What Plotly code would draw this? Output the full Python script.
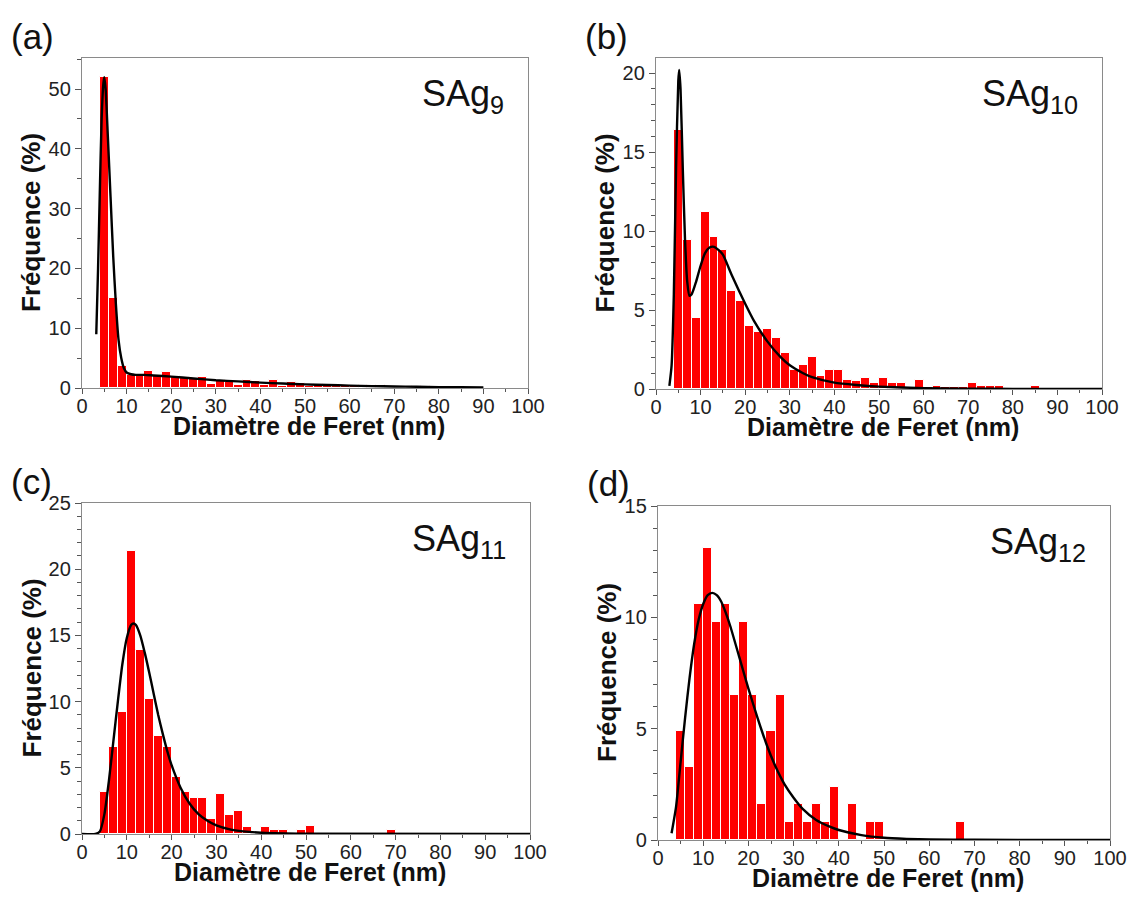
import plotly.graph_objects as go

# Bin centres (2 nm bins starting at 4 nm)
bins_a = [5 + 2 * i for i in range(37)]
freq_a = [52, 15, 3.7, 2.2, 2.3, 2.9, 2.0, 2.7, 2.0, 1.8, 1.5, 1.8, 0.7, 1.4, 1.0, 0.5,
          1.4, 1.1, 0.5, 1.4, 0.4, 1.0, 0.8, 0.3, 0.7, 0.5, 0.3, 0.3, 0.5, 0.5, 0.3, 0.5,
          0, 0, 0, 0.4, 0.4]

bins_b = [5 + 2 * i for i in range(41)]
freq_b = [16.4, 9.4, 4.5, 11.2, 9.6, 8.8, 6.2, 5.6, 4.0, 3.6, 3.8, 3.2, 2.3, 1.2, 1.5, 2.0,
          0.8, 1.2, 1.2, 0.6, 0.5, 0.7, 0.4, 0.7, 0.4, 0.4, 0.1, 0.6, 0.1, 0.2, 0.1, 0.1,
          0.1, 0.4, 0.2, 0.2, 0.2, 0, 0, 0, 0.2]

bins_c = [5 + 2 * i for i in range(33)]
freq_c = [3.2, 6.6, 9.2, 21.4, 13.9, 10.2, 7.4, 6.6, 4.3, 3.2, 2.7, 2.7, 1.1, 3.0, 1.4, 1.7,
          0.5, 0.1, 0.5, 0.3, 0.3, 0.1, 0.3, 0.6, 0, 0, 0, 0, 0, 0, 0, 0, 0.3]

bins_d = [5 + 2 * i for i in range(32)]
freq_d = [4.9, 3.3, 10.6, 13.1, 9.8, 10.6, 6.5, 9.8, 6.5, 1.6, 4.9, 6.5, 0.8, 1.6, 0.8, 1.6,
          0.8, 2.4, 0.05, 1.6, 0.05, 0.8, 0.8, 0, 0, 0, 0, 0, 0, 0, 0, 0.8]

# Fitted curves
fit_xa = [3.2, 3.6, 4.0, 4.4, 4.8, 5.0, 5.3, 5.8, 6.4, 7.0, 7.6, 8.2, 8.8, 9.4, 10, 11, 12,
          14, 16, 20, 25, 30, 35, 40, 45, 50, 55, 60, 65, 70, 75, 80, 85, 90]
fit_ya = [9, 20, 33, 45, 51, 52, 50, 42, 32, 22, 14, 8, 5, 3.3, 2.6, 2.3, 2.2,
          2.2, 2.1, 1.9, 1.6, 1.3, 1.1, 0.9, 0.75, 0.6, 0.5, 0.4, 0.32, 0.25, 0.2, 0.15, 0.12, 0.1]

fit_xb = [3.0, 3.5, 4.0, 4.5, 5.0, 5.2, 5.5, 6.0, 6.5, 7.0, 7.5, 8.0, 9, 10, 11, 12, 13, 14,
          15, 17, 20, 22, 25, 28, 30, 33, 35, 40, 45, 50, 60, 70, 80, 100]
fit_yb = [0.2, 1.5, 6, 14, 19.5, 20.2, 19, 14, 9.5, 6.8, 5.9, 6.0, 6.8, 7.8, 8.6, 8.95, 9.0, 8.8,
          8.5, 7.2, 5.4, 4.3, 3.0, 2.0, 1.5, 1.0, 0.75, 0.4, 0.25, 0.15, 0.05, 0.02, 0.01, 0]

fit_xc = [0, 3, 4, 5, 6, 7, 8, 9, 10, 11, 11.5, 12, 13, 14, 15, 16, 17, 18, 19, 20, 22, 24,
          26, 28, 30, 33, 36, 40, 50, 100]
fit_yc = [0, 0, 0.2, 1.5, 4, 7, 10, 12.8, 14.8, 15.8, 15.9, 15.8, 15.0, 13.7, 12.2, 10.6, 9.0,
          7.6, 6.3, 5.2, 3.5, 2.3, 1.5, 1.0, 0.65, 0.35, 0.2, 0.1, 0.02, 0]

fit_xd = [3, 4, 5, 6, 7, 8, 9, 10, 11, 12, 13, 14, 15, 16, 18, 20, 22, 24, 26, 28, 30, 32, 35,
          38, 40, 45, 50, 55, 60, 70, 100]
fit_yd = [0.3, 1.5, 3.5, 5.5, 7.3, 8.8, 9.9, 10.6, 11.0, 11.1, 11.0, 10.7, 10.2, 9.6, 8.2, 6.8,
          5.5, 4.3, 3.3, 2.5, 1.9, 1.4, 0.9, 0.6, 0.45, 0.22, 0.1, 0.05, 0.02, 0.01, 0]

x_ticks = list(range(0, 101, 10))
panel_labels = ["(a)", "(b)", "(c)", "(d)"]
sample_names = ["SAg<sub>9</sub>", "SAg<sub>10</sub>", "SAg<sub>11</sub>", "SAg<sub>12</sub>"]
x_title = "Diamètre de Feret (nm)"
y_title = "Fréquence (%)"

# the page body adds an 8 px margin; work in window pixels and convert
OFF = 8
W, H = 1120, 888
FONT = "Liberation Sans, Arial, sans-serif"


def px(x):
    return (x - OFF) / W


def py(y):
    return 1 - (y - OFF) / H


# window-pixel boxes (left, right, top, bottom)
boxes = [(82, 528, 58, 388), (656, 1102, 58, 389), (82, 530, 503, 834), (658, 1110, 506, 840)]
yranges = [[0, 55.2], [0, 20.95], [0, 25], [0, 15]]
ydticks = [10, 5, 5, 5]
yminor = [5, 1, 1, 1]

panels = [(bins_a, freq_a, fit_xa, fit_ya), (bins_b, freq_b, fit_xb, fit_yb),
          (bins_c, freq_c, fit_xc, fit_yc), (bins_d, freq_d, fit_xd, fit_yd)]

fig = go.Figure()
annotations = []
for i, ((bx, by, fx, fy), (l, r, t, b)) in enumerate(zip(panels, boxes)):
    k = "" if i == 0 else str(i + 1)
    kt = str(i + 5)  # overlay axis carrying the x tick marks
    xa, ya = "x" + k, "y" + k
    fig.add_trace(go.Bar(x=bx, y=by, width=2, xaxis=xa, yaxis=ya,
                         marker=dict(color="#ff0000", line=dict(color="white", width=1)),
                         showlegend=False))
    fig.add_trace(go.Scatter(x=fx, y=fy, mode="lines", xaxis=xa, yaxis=ya,
                             line=dict(color="black", width=2.4, shape="spline", smoothing=0.6),
                             showlegend=False))
    # invisible trace so the tick-mark axis is drawn
    fig.add_trace(go.Scatter(x=[0, 100], y=[0, 0], mode="lines", xaxis="x" + kt, yaxis=ya,
                             line=dict(width=0), hoverinfo="skip", showlegend=False))
    axis_common = dict(showline=True, mirror=True, linecolor="#8a8a8a", linewidth=1.3,
                       tickcolor="#555", tickwidth=1,
                       showgrid=False, zeroline=False, automargin=False,
                       tickfont=dict(family=FONT, size=20, color="#222"))
    fig.layout["xaxis" + k] = dict(
        axis_common, domain=[px(l), px(r)], anchor=ya, range=[0, 100],
        tickvals=x_ticks, ticks="")
    fig.layout["xaxis" + kt] = dict(
        domain=[px(l), px(r)], anchor=ya, overlaying=xa, range=[0, 100],
        showline=False, showgrid=False, zeroline=False, showticklabels=False,
        automargin=False, tickvals=x_ticks, ticks="outside", ticklen=5,
        tickcolor="#555", tickwidth=1,
        minor=dict(dtick=5, ticks="outside", ticklen=3, tickcolor="#555"))
    fig.layout["yaxis" + k] = dict(
        axis_common, domain=[py(b), py(t)], anchor=xa, range=yranges[i],
        dtick=ydticks[i], tick0=0, ticks="outside", ticklen=6,
        minor=dict(dtick=yminor[i], ticks="outside", ticklen=4, tickcolor="#555"))
    # axis titles
    annotations.append(dict(text="<b>" + x_title + "</b>", x=px((l + r) / 2 + 4), y=py(b + 38),
                            xref="paper", yref="paper", xanchor="center", yanchor="middle",
                            showarrow=False, font=dict(family=FONT, size=25, color="#111")))
    annotations.append(dict(text="<b>" + y_title + "</b>", x=px(l - 51), y=py((t + b) / 2),
                            xref="paper", yref="paper", xanchor="center", yanchor="middle",
                            textangle=-90,
                            showarrow=False, font=dict(family=FONT, size=26, color="#111")))
    annotations.append(dict(text=panel_labels[i], x=px(l - 73), y=py(t - 22),
                            xref="paper", yref="paper", xanchor="left", yanchor="middle",
                            showarrow=False, font=dict(family=FONT, size=35, color="#111")))
    annotations.append(dict(text=sample_names[i], x=px(r - 22), y=py(t + 38),
                            xref="paper", yref="paper", xanchor="right", yanchor="middle",
                            showarrow=False, font=dict(family=FONT, size=36, color="#111")))

fig.update_layout(width=W, height=H, margin=dict(l=0, r=0, t=0, b=0, autoexpand=False),
                  paper_bgcolor="white", plot_bgcolor="white", bargap=0,
                  annotations=annotations)
fig.write_html("out.html")
